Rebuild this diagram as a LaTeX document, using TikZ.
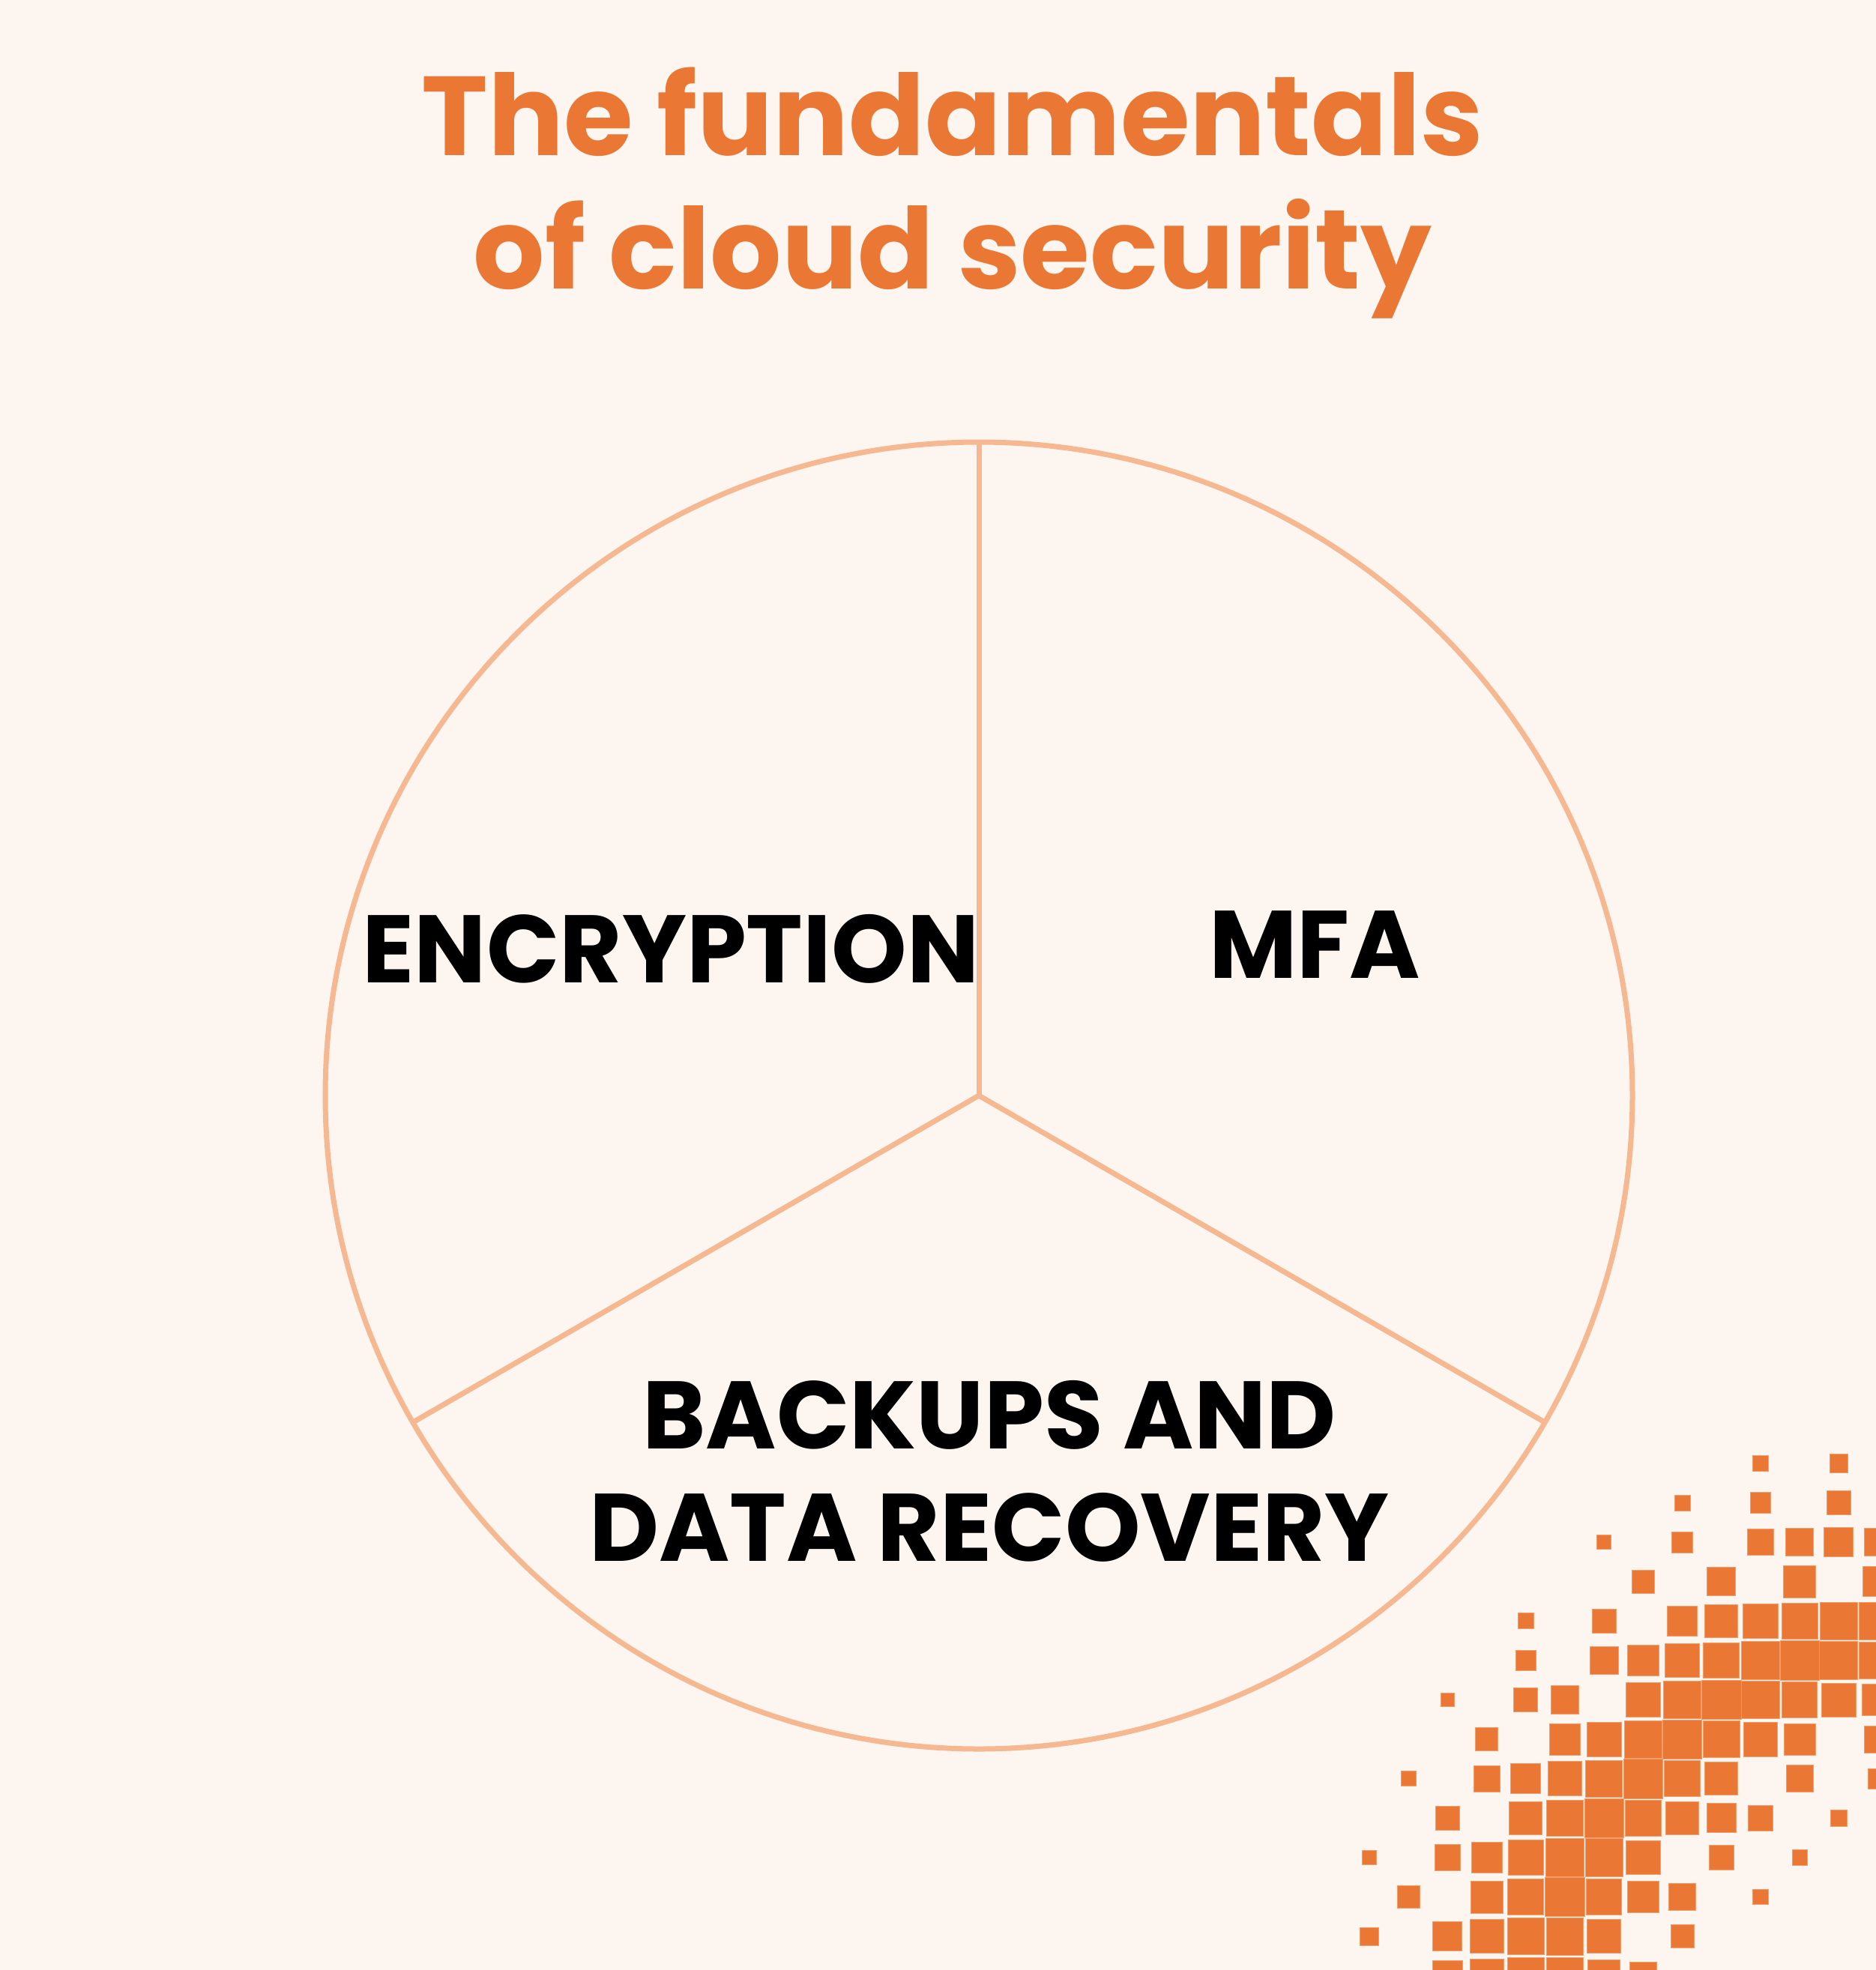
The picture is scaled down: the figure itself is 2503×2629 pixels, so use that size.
\documentclass[tikz,border=0pt]{standalone}
\usepackage{fontspec}
\setmainfont{Poppins}
\definecolor{bg}{HTML}{FDF5F0}
\definecolor{ttl}{HTML}{EB7734}
\definecolor{ring}{HTML}{F5B891}
\definecolor{sq}{HTML}{EB7734}
\begin{document}
\begin{tikzpicture}[x=1pt,y=-1pt,
  lbl/.style={font=\fontsize{128}{150}\selectfont\bfseries, text=black, align=center},
  ttlst/.style={font=\fontsize{150}{178}\selectfont\bfseries, text=ttl, align=center},
  seg/.style={draw=ring, line width=7pt},
  px/.style={fill=sq, draw=ring!60!sq, line width=1pt}]
\fill[bg] (0,0) rectangle (2503,2629);
\useasboundingbox (0,0) rectangle (2503,2629);
\node[ttlst] (title) at (1271,258) {The fundamentals\\of cloud security};
\coordinate (c) at (1306,1462);
\draw[seg] (c) circle (872);
\coordinate (top) at (1306,590);
\draw[seg] (c) -- (top);
\draw[seg] (c) -- ++(755,436) coordinate (rr);
\draw[seg] (c) -- ++(-755,436) coordinate (ll);
\node[lbl] (enc) at (895,1266) {ENCRYPTION};
\node[lbl] (mfa) at (1754,1261) {MFA};
\node[lbl] (bdr) at (1320,1963) {BACKUPS AND\\DATA RECOVERY};
\foreach \j/\i/\s in {10/0/45,12/0/55,
 8/1/47,10/1/62,12/1/72,
 6/2/42,8/2/63,10/2/78,11/2/83,12/2/87,13/2/82,
 7/3/68,9/3/85,11/3/96,13/3/90,
 4/4/47,6/4/71,8/4/90,9/4/98,10/4/103,11/4/108,12/4/112,13/4/110,
 4/5/60,6/5/84,7/5/93,8/5/102,9/5/107,10/5/113,11/5/117,12/5/114,13/5/110,
 2/6/41,4/6/71,5/6/84,7/6/104,8/6/111,9/6/117,10/6/113,11/6/106,12/6/101,13/6/95,
 3/7/68,5/7/93,6/7/103,7/7/111,8/7/116,9/7/109,10/7/102,11/7/93,13/7/80,
 1/8/45,3/8/78,4/8/89,5/8/102,6/8/110,7/8/117,8/8/107,9/8/98,11/8/80,13/8/60,
 2/9/70,4/9/98,5/9/108,6/9/117,7/9/109,8/9/98,9/9/87,10/9/75,12/9/50,
 0/10/44,2/10/77,3/10/91,4/10/104,5/10/112,6/10/112,7/10/101,9/10/74,11/10/45,
 1/11/67,3/11/96,4/11/107,5/11/117,6/11/106,7/11/93,8/11/80,10/11/45,
 0/12/54,2/12/87,3/12/100,4/12/110,5/12/111,6/12/101,8/12/69,
 2/13/90,3/13/100,4/13/110,5/13/110,6/13/95,7/13/80}{
  \pgfmathsetmacro{\cx}{1827+52.2*\j}
  \pgfmathsetmacro{\cy}{1953+52.6*\i}
  \pgfmathsetmacro{\h}{\s*0.448/2}
  \path[px] (\cx-\h,\cy-\h) rectangle (\cx+\h,\cy+\h);
}
\end{tikzpicture}
\end{document}
